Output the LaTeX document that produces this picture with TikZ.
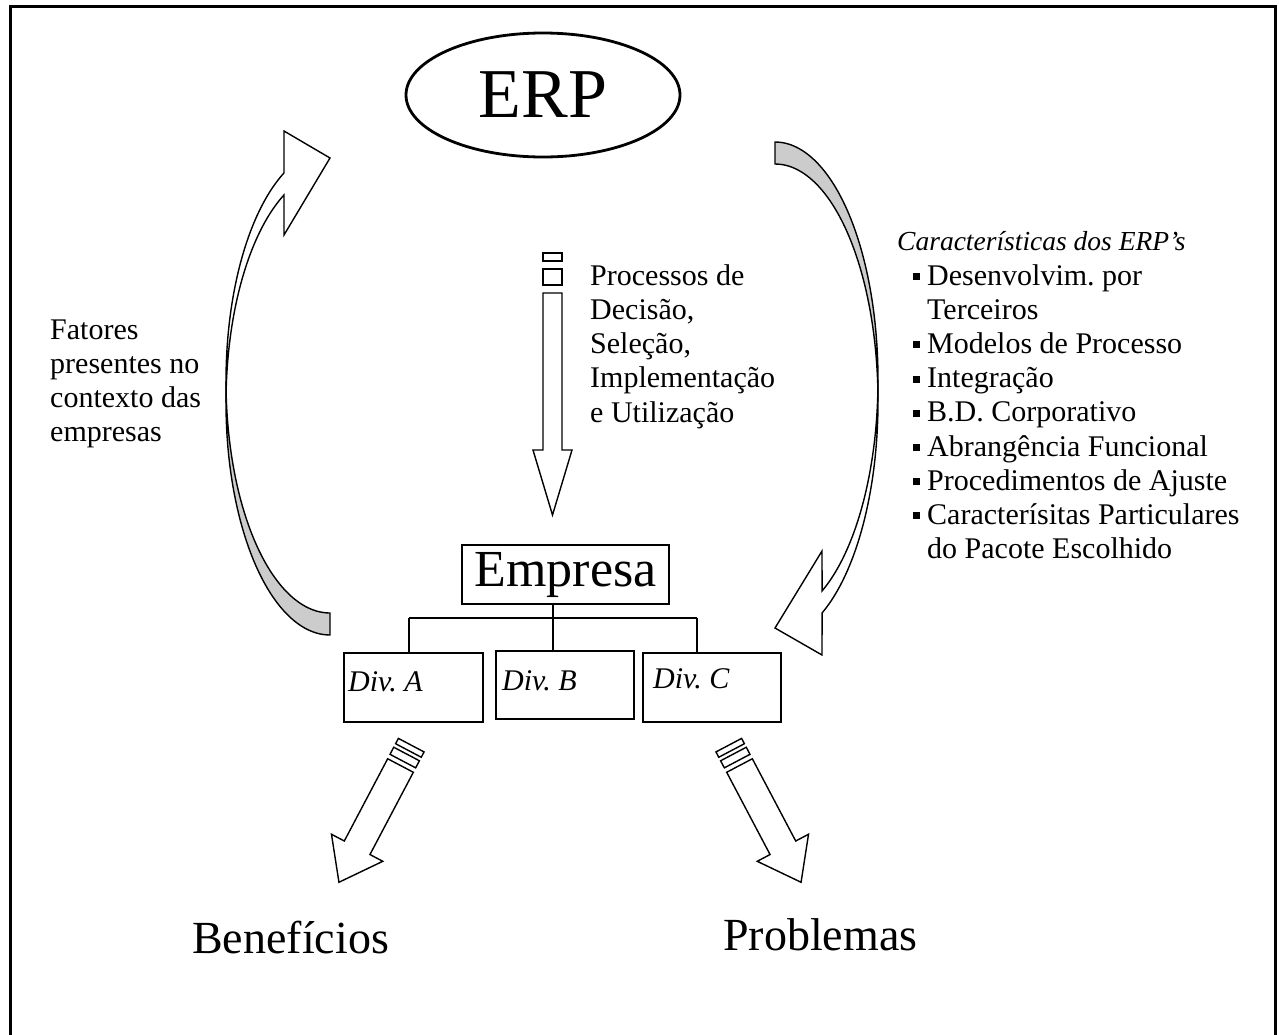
\documentclass[tikz,border=0pt]{standalone}
\usepackage{fontspec}
\setmainfont{Liberation Serif}
\usetikzlibrary{shapes.geometric,calc}

% Straight arrow with two detached stripes behind its tail.
% Local frame: tail of the shaft at the origin, arrow pointing along +x.
% #1 shaft length, #2 half shaft width, #3 head length, #4 half head width,
% #5 first gap, #6 wide stripe, #7 second gap, #8 narrow stripe
\newcommand\stripearrow[8]{%
  \draw[outline] (0,-#2) -- (#1,-#2) -- (#1,-#4) -- ({#1+#3},0) -- (#1,#4) -- (#1,#2) -- (0,#2) -- cycle;
  \draw[outline] (-#5,-#2) rectangle ({-#5-#6},#2);
  \draw[outline] ({-#5-#6-#7},-#2) rectangle ({-#5-#6-#7-#8},#2);
}

\tikzset{
  outline/.style={line width=1.4pt, line join=miter},
  box/.style={draw, line width=1.5pt, inner sep=0pt},
  link/.style={line width=1.5pt},
  body/.style={font=\fontsize{30}{34}\selectfont, inner sep=0pt, anchor=base west},
  bodyit/.style={body, font=\fontsize{30}{34}\selectfont\itshape},
  head/.style={body, font=\fontsize{27.5}{34}\selectfont\itshape},
  big/.style={font=\fontsize{46}{50}\selectfont, inner sep=0pt, anchor=base west},
  back/.style={outline, fill=gray!40},
  front/.style={outline, fill=white},
}

\begin{document}
\begin{tikzpicture}[x=1pt, y=-1pt]
  \useasboundingbox (0,0) rectangle (1279,1034);
  \clip (0,0) rectangle (1279,1034);

  % frame
  \draw[line width=3pt] (10.3,6) rectangle (1275.5,1045);

  % ERP
  \node[ellipse, draw, line width=2.8pt, minimum width=274pt, minimum height=124pt,
        font=\fontsize{70}{70}\selectfont] (erp) at (543,95) {ERP};

  % left curved arrow (back face, then front face with head)
  \draw[back] plot[domain=180:90, samples=60, variable=\t] ({330+104*cos(\t)},{403+232*sin(\t)})
    -- plot[domain=90:180, samples=60, variable=\t] ({330+104*cos(\t)},{381+232*sin(\t)}) -- cycle;
  \draw[front] plot[domain=180:243.75, samples=60, variable=\t] ({330+104*cos(\t)},{381+232*sin(\t)})
    -- (284,131) -- (330,158) -- (284,235)
    -- plot[domain=243.75:180, samples=60, variable=\t] ({330+104*cos(\t)},{403+232*sin(\t)}) -- cycle;

  % right curved arrow
  \draw[back] plot[domain=270:360, samples=60, variable=\t] ({775+103*cos(\t)},{379.6+237.6*sin(\t)})
    -- plot[domain=360:270, samples=60, variable=\t] ({775+103*cos(\t)},{401.6+237.6*sin(\t)}) -- cycle;
  \draw[front] plot[domain=0:62.8, samples=60, variable=\t] ({775+103*cos(\t)},{401.6+237.6*sin(\t)})
    -- (822,655) -- (775,628) -- (822,551)
    -- plot[domain=62.8:0, samples=60, variable=\t] ({775+103*cos(\t)},{379.6+237.6*sin(\t)}) -- cycle;

  % vertical arrow from ERP to Empresa
  \begin{scope}[shift={(552.5,293)}, rotate=-90]
    \stripearrow{157}{9.5}{65}{19.5}{8}{16}{8}{8}
  \end{scope}

  % arrows to the outcomes
  \begin{scope}[shift={(400.5,765.5)}, rotate=-117.8]
    \stripearrow{93}{14.5}{39}{29}{5}{8}{4}{6}
  \end{scope}
  \begin{scope}[shift={(739.5,765.5)}, rotate=-62.2]
    \stripearrow{93}{14.5}{39}{29}{5}{8}{4}{6}
  \end{scope}

  % organisation chart
  \node[box, minimum width=207pt, minimum height=59pt, font=\fontsize{52}{52}\selectfont]
    (emp) at (565.5,574.5) {Empresa};
  \node[box, minimum width=139pt, minimum height=69pt] (divA) at (413.5,687.5) {};
  \node[box, minimum width=138pt, minimum height=68pt] (divB) at (565,685) {};
  \node[box, minimum width=138pt, minimum height=69pt] (divC) at (712,687.5) {};
  \node[bodyit] (labA) at (348,691) {Div.\ A};
  \node[bodyit] (labB) at (502,690) {Div.\ B};
  \node[bodyit] (labC) at (653,688) {Div.\ C};

  \coordinate (busL) at (409,618);
  \coordinate (busM) at (553,618);
  \coordinate (busR) at (697,618);
  \draw[link] (busL) -- (busR);
  \draw[link] (busM |- emp.south) -- (busM |- divB.north);
  \draw[link] (busL) -- (busL |- divA.north);
  \draw[link] (busR) -- (busR |- divC.north);

  % left text
  \node[body] (fat1) at (50,339) {Fatores};
  \node[body] (fat2) at (50,373.3) {presentes no};
  \node[body] (fat3) at (50,407.6) {contexto das};
  \node[body] (fat4) at (50,441.9) {empresas};

  % middle text
  \node[body] (proc1) at (590,285) {Processos de};
  \node[body] (proc2) at (590,319.3) {Decisão,};
  \node[body] (proc3) at (590,353.6) {Seleção,};
  \node[body] (proc4) at (590,387.9) {Implementação};
  \node[body] (proc5) at (590,422.2) {e Utilização};

  % right list
  \node[head] (carT) at (897,250) {Características dos ERP’s};
  \foreach \txt/\y/\b [count=\i] in {
      Desenvolvim.\ por/285/1,
      Terceiros/319.2/0,
      Modelos de Processo/353.4/1,
      Integração/387.6/1,
      B.D. Corporativo/421.8/1,
      Abrangência Funcional/456/1,
      Procedimentos de Ajuste/490.2/1,
      Caracterísitas Particulares/524.4/1,
      do Pacote Escolhido/558.6/0} {
    \node[body] (car\i) at (927,\y) {\txt};
    \ifnum\b=1
      \fill ($(car\i.base west)+(-14.5,-5)$) rectangle ++(7,-7);
    \fi
  }

  % outcomes
  \node[big] (ben) at (192,953) {Benefícios};
  \node[big] (prob) at (723,950) {Problemas};
\end{tikzpicture}
\end{document}
